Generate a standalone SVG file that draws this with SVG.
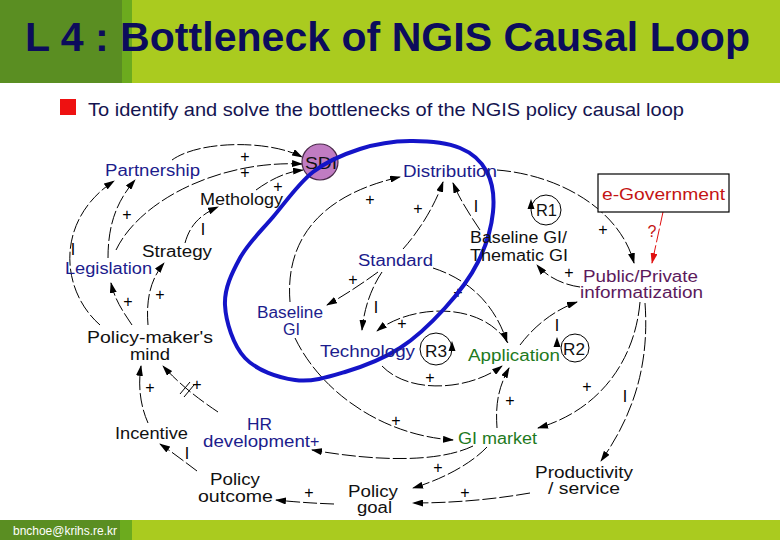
<svg xmlns="http://www.w3.org/2000/svg" width="780" height="540" viewBox="0 0 780 540">
<defs>
<marker id="ah" viewBox="0 0 11 7" refX="10" refY="3.5" markerWidth="11" markerHeight="7" markerUnits="userSpaceOnUse" orient="auto"><path d="M0,0 L11,3.5 L0,7 z" fill="#000"/></marker>
<marker id="ahr" viewBox="0 0 11 7" refX="10" refY="3.5" markerWidth="11" markerHeight="7" markerUnits="userSpaceOnUse" orient="auto"><path d="M0,0 L11,3.5 L0,7 z" fill="#e01010"/></marker>
<style>
.t{font-family:"Liberation Sans",Arial,sans-serif;font-size:16px;fill:#111}
.pm{font-family:"Liberation Sans",Arial,sans-serif;font-size:16px;fill:#000;text-anchor:middle}
.blue{fill:#1c1c8c}
.green{fill:#1e7a1e}
.purple{fill:#5c1a5c}
.red{fill:#c41414}
.c{fill:none;stroke:#000;stroke-width:1;stroke-dasharray:14 3;marker-end:url(#ah)}
.loop{fill:none;stroke:#000;stroke-width:1}
</style>
</defs>
<rect width="780" height="540" fill="#fff"/>
<!-- header -->
<rect x="0" y="0" width="780" height="83" fill="#aacb1f"/>
<rect x="0" y="0" width="122" height="83" fill="#5a8e22"/>
<rect x="122" y="0" width="10" height="83" fill="#6cab1e"/>
<text x="25" y="51" font-family="'Liberation Sans',Arial,sans-serif" font-weight="bold" font-size="41" fill="#0c0c5c" textLength="725" lengthAdjust="spacingAndGlyphs">L 4 : Bottleneck of NGIS Causal Loop</text>
<rect x="60" y="99" width="16" height="16" fill="#ee1111"/>
<text x="88" y="116" font-family="'Liberation Sans',Arial,sans-serif" font-size="19" fill="#141450" textLength="596" lengthAdjust="spacingAndGlyphs">To identify and solve the bottlenecks of the NGIS policy causal loop</text>
<!-- footer -->
<rect x="0" y="520" width="780" height="20" fill="#aacb1f"/>
<rect x="0" y="520" width="120" height="20" fill="#5a8e22"/>
<rect x="120" y="520" width="12" height="20" fill="#6cab1e"/>
<text x="13" y="535" font-family="'Liberation Sans',Arial,sans-serif" font-size="12" fill="#fff" textLength="104" lengthAdjust="spacingAndGlyphs">bnchoe@krihs.re.kr</text>

<g id="connectors">
<path class="c" d="M172,160 C200,140 270,140 302,157"/>
<path class="c" d="M116,250 C140,200 220,160 302,164"/>
<path class="c" d="M256,190 C270,180 285,172 303,170"/>
<path class="c" d="M100,325 C60,290 55,220 114,181"/>
<path class="c" d="M108,258 C108,222 118,200 135,180"/>
<path class="c" d="M132,325 C122,310 115,300 111,283"/>
<path class="c" d="M148,325 C146,300 150,280 164,263"/>
<path class="c" d="M185,243 C190,225 200,215 218,207"/>
<path class="c" d="M148,423 C140,405 138,385 141,366"/>
<path class="c" d="M218,412 C200,400 180,385 163,366"/>
<path class="c" d="M197,471 C185,462 172,452 160,444"/>
<path class="c" d="M334,504 Q305,503 276,500"/>
<path class="c" d="M473,446 C440,462 380,462 312,450"/>
<path class="c" d="M295,338 C320,390 380,435 453,440"/>
<path class="c" d="M497,428 C495,400 500,385 509,368"/>
<path class="c" d="M382,366 C410,395 470,390 502,366"/>
<path class="c" d="M508,343 C480,300 410,305 377,331"/>
<path class="c" d="M382,272 C370,290 364,310 362,330"/>
<path class="c" d="M378,272 C360,285 345,295 327,305"/>
<path class="c" d="M433,268 C470,280 495,305 507,342"/>
<path class="c" d="M290,302 C285,240 320,195 400,177"/>
<path class="c" d="M403,249 C420,230 435,205 443,182"/>
<path class="c" d="M480,230 C470,215 460,200 453,183"/>
<path class="c" d="M497,170 C560,175 620,210 634,263"/>
<path class="c" d="M580,287 C565,285 548,278 537,265"/>
<path class="c" d="M520,345 C535,325 555,310 577,302"/>
<path class="c" d="M640,302 C635,360 600,410 538,428"/>
<path class="c" d="M645,303 C650,370 630,420 601,461"/>
<path class="c" d="M530,493 C490,500 450,503 413,503"/>
<path class="c" d="M487,447 C470,465 440,480 413,488"/>
<path d="M663,212 L652,263" fill="none" stroke="#e01010" stroke-width="1" stroke-dasharray="14 3" marker-end="url(#ahr)"/>
<!-- delay mark -->
<path d="M180,394 L190,382 M184,397 L194,385" stroke="#000" stroke-width="1" fill="none"/>
</g>

<g id="polarity">
<text class="pm" x="245" y="162">+</text>
<text class="pm" x="245" y="178">+</text>
<text class="pm" x="278" y="192">+</text>
<text class="pm" x="127" y="220">+</text>
<text class="pm" x="73" y="255">I</text>
<text class="pm" x="203" y="235">I</text>
<text class="pm" x="370" y="205">+</text>
<text class="pm" x="418" y="214">+</text>
<text class="pm" x="476" y="212">I</text>
<text class="pm" x="603" y="235">+</text>
<text x="652" y="237" font-family="'Liberation Sans',Arial,sans-serif" font-size="16" fill="#c41414" text-anchor="middle">?</text>
<text class="pm" x="353" y="285" font-size="14">+</text>
<text class="pm" x="569" y="278">+</text>
<text class="pm" x="128" y="307">+</text>
<text class="pm" x="160" y="300">+</text>
<text class="pm" x="376" y="313">I</text>
<text class="pm" x="402" y="329">+</text>
<text class="pm" x="458" y="298">+</text>
<text class="pm" x="557" y="331">I</text>
<text class="pm" x="430" y="383">+</text>
<text class="pm" x="510" y="406">+</text>
<text class="pm" x="587" y="392">+</text>
<text class="pm" x="625" y="402">I</text>
<text class="pm" x="150" y="393">+</text>
<text class="pm" x="197" y="390">+</text>
<text class="pm" x="396" y="426">+</text>
<text class="pm" x="187" y="459">I</text>
<text class="pm" x="309" y="498">+</text>
<text class="pm" x="438" y="473">+</text>
<text class="pm" x="465" y="498">+</text>
</g>

<g id="loop-R1"><circle class="loop" cx="546" cy="210" r="15"/><path d="M531,199 L527.5,209 L534.5,209 z"/><text class="t" x="536" y="216" textLength="21" lengthAdjust="spacingAndGlyphs">R1</text></g>
<g id="loop-R3"><circle class="loop" cx="436" cy="349" r="16"/><path d="M452,341 L448.5,351 L455.5,351 z"/><text class="t" x="425" y="357" textLength="22" lengthAdjust="spacingAndGlyphs">R3</text></g>
<g id="loop-R2"><circle class="loop" cx="575" cy="348" r="14"/><path d="M557,337 L553.5,347 L560.5,347 z"/><text class="t" x="563" y="355" textLength="22" lengthAdjust="spacingAndGlyphs">R2</text></g>

<g id="sdi"><circle cx="320" cy="162" r="18" fill="#c07cc2" stroke="#4a2a4a" stroke-width="1.2"/><text class="t" x="305" y="169" fill="#3a1a3a" textLength="32" lengthAdjust="spacingAndGlyphs">SDI</text></g>

<g id="blue-ellipse"><path d="M225,305 C224.2,288.3 232,272.7 240,258 C248,243.3 260.8,231.3 273,217 C285.2,202.7 298.5,183.3 313,172 C327.5,160.7 343.8,154.2 360,149 C376.2,143.8 393.3,141.2 410,141 C426.7,140.8 447.2,142.8 460,148 C472.8,153.2 481.5,161.3 487,172 C492.5,182.7 494.5,197 493,212 C491.5,227 486,246 478,262 C470,278 458,293.7 445,308 C432,322.3 416.7,337.3 400,348 C383.3,358.7 362.5,366.7 345,372 C327.5,377.3 311.7,382.3 295,380 C278.3,377.7 256.7,370.5 245,358 C233.3,345.5 225.8,321.7 225,305 Z" fill="none" stroke="#1414c8" stroke-width="4"/></g>

<g id="partnership"><text class="t blue" x="105" y="176" textLength="95" lengthAdjust="spacingAndGlyphs">Partnership</text></g>
<g id="methology"><text class="t" x="200" y="205" textLength="83" lengthAdjust="spacingAndGlyphs">Methology</text></g>
<g id="strategy"><text class="t" x="142" y="257" textLength="70" lengthAdjust="spacingAndGlyphs">Strategy</text></g>
<g id="legislation"><text class="t blue" x="65" y="274" textLength="87" lengthAdjust="spacingAndGlyphs">Legislation</text></g>
<g id="distribution"><text class="t blue" x="403" y="177" textLength="94" lengthAdjust="spacingAndGlyphs">Distribution</text></g>
<g id="standard"><text class="t blue" x="358" y="266" textLength="75" lengthAdjust="spacingAndGlyphs">Standard</text></g>
<g id="baseline-thematic"><text class="t" x="470" y="243" textLength="97" lengthAdjust="spacingAndGlyphs">Baseline GI/</text><text class="t" x="470" y="261" textLength="98" lengthAdjust="spacingAndGlyphs">Thematic GI</text></g>
<g id="e-government"><rect x="598" y="174" width="131" height="38" fill="#fff" stroke="#000" stroke-width="1.2"/><text class="t red" x="602" y="200" font-size="17" textLength="123" lengthAdjust="spacingAndGlyphs">e-Government</text></g>
<g id="public-private"><text class="t purple" x="583" y="282" textLength="115" lengthAdjust="spacingAndGlyphs">Public/Private</text><text class="t purple" x="580" y="298" textLength="123" lengthAdjust="spacingAndGlyphs">informatization</text></g>
<g id="baseline-gi"><text class="t blue" x="257" y="318" textLength="66" lengthAdjust="spacingAndGlyphs">Baseline</text><text class="t blue" x="283" y="335" textLength="17" lengthAdjust="spacingAndGlyphs">GI</text></g>
<g id="technology"><text class="t blue" x="320" y="357" textLength="95" lengthAdjust="spacingAndGlyphs">Technology</text></g>
<g id="application"><text class="t green" x="468" y="361" textLength="92" lengthAdjust="spacingAndGlyphs">Application</text></g>
<g id="policy-makers-mind"><text class="t" x="87" y="343" textLength="126" lengthAdjust="spacingAndGlyphs">Policy-maker's</text><text class="t" x="130" y="360" textLength="40" lengthAdjust="spacingAndGlyphs">mind</text></g>
<g id="hr-development"><text class="t blue" x="247" y="430" textLength="25" lengthAdjust="spacingAndGlyphs">HR</text><text class="t blue" x="203" y="447" textLength="107" lengthAdjust="spacingAndGlyphs">development</text><text class="t blue" x="310" y="447">+</text></g>
<g id="incentive"><text class="t" x="115" y="439" textLength="73" lengthAdjust="spacingAndGlyphs">Incentive</text></g>
<g id="policy-outcome"><text class="t" x="210" y="485" textLength="50" lengthAdjust="spacingAndGlyphs">Policy</text><text class="t" x="198" y="502" textLength="75" lengthAdjust="spacingAndGlyphs">outcome</text></g>
<g id="gi-market"><text class="t green" x="458" y="444" textLength="79" lengthAdjust="spacingAndGlyphs">GI market</text></g>
<g id="policy-goal"><text class="t" x="348" y="497" textLength="50" lengthAdjust="spacingAndGlyphs">Policy</text><text class="t" x="357" y="513" textLength="35" lengthAdjust="spacingAndGlyphs">goal</text></g>
<g id="productivity"><text class="t" x="535" y="478" font-size="15" textLength="98" lengthAdjust="spacingAndGlyphs">Productivity</text><text class="t" x="548" y="494" font-size="15" textLength="72" lengthAdjust="spacingAndGlyphs">/ service</text></g>
</svg>
